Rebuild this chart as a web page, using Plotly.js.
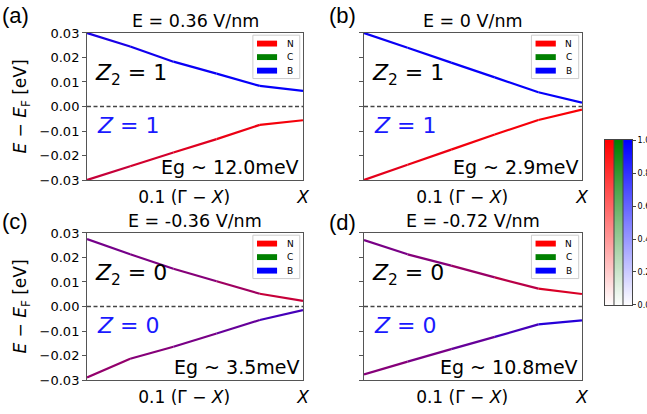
<!DOCTYPE html>
<html><head><meta charset="utf-8">
<script src="https://cdn.plot.ly/plotly-3.0.1.min.js"></script>
<style>html,body{margin:0;padding:0;background:#fff}#chart{width:647px;height:414px}</style>
</head><body><div id="chart"></div>
<script>
// ---- data ----
const kPath = [0, 0.2, 0.4, 0.6, 0.8, 1.0];
const panelLetters = ['(a)', '(b)', '(c)', '(d)'];
const fieldTitles = ['E = 0.36 V/nm', 'E = 0 V/nm', 'E = -0.36 V/nm', 'E = -0.72 V/nm'];
const upperA = [0.0300, 0.0245, 0.0183, 0.0134, 0.0084, 0.0064];
const lowerA = [-0.0300, -0.0244, -0.0188, -0.0133, -0.0075, -0.0056];
const upperB = [0.0300, 0.0240, 0.0179, 0.0119, 0.0058, 0.0016];
const lowerB = [-0.0300, -0.0238, -0.0176, -0.0114, -0.0055, -0.0013];
const upperC = [0.0275, 0.0213, 0.0154, 0.0103, 0.0052, 0.0023];
const lowerC = [-0.0290, -0.0213, -0.0164, -0.0110, -0.0055, -0.0015];
const upperD = [0.0271, 0.0213, 0.0167, 0.0119, 0.0073, 0.0051];
const lowerD = [-0.0277, -0.0225, -0.0174, -0.0124, -0.0073, -0.0057];
// weight of N (red) character along each band; the rest is B (blue)
const upperRedA = [0.12, 0.08, 0.05, 0.03, 0.02, 0.02];
const lowerRedA = [0.75, 0.80, 0.85, 0.90, 0.95, 0.97];
const upperRedB = [0.05, 0.04, 0.03, 0.02, 0.02, 0.02];
const lowerRedB = [0.88, 0.91, 0.94, 0.96, 0.97, 0.98];
const upperRedC = [0.45, 0.47, 0.50, 0.55, 0.70, 0.85];
const lowerRedC = [0.60, 0.55, 0.50, 0.45, 0.35, 0.20];
const upperRedD = [0.45, 0.50, 0.55, 0.65, 0.80, 0.90];
const lowerRedD = [0.55, 0.50, 0.45, 0.35, 0.20, 0.10];
const gapLabels = ['Eg ~ 12.0meV', 'Eg ~ 2.9meV', 'Eg ~ 3.5meV', 'Eg ~ 10.8meV'];
const z2Values = ['1', '1', '0', '0'];
const zValues = ['1', '1', '0', '0'];
const upperSigns = ['−', '−', '+', '+'];
const lowerSigns = ['+', '+', '−', '−'];
const legendNames = ['N', 'C', 'B'];
const legendColors = ['#ff0000', '#008000', '#0000ff'];
const cbLevels = [0, 0.1, 0.2, 0.3, 0.4, 0.5, 0.6, 0.7, 0.8, 0.9, 1.0];
const cbTickVals = [0, 0.2, 0.4, 0.6, 0.8, 1.0];
const cbTickText = ['0.0', '0.2', '0.4', '0.6', '0.8', '1.0'];
const yTickVals = [-0.03, -0.02, -0.01, 0, 0.01, 0.02, 0.03];
const xTickVals = [0.45, 1.0];
const xTickText = ['0.1 (Γ − <i>X</i>)', '<i>X</i>'];
const zeroLevel = 0;

const uppers = [upperA, upperB, upperC, upperD];
const lowers = [lowerA, lowerB, lowerC, lowerD];
const upperReds = [upperRedA, upperRedB, upperRedC, upperRedD];
const lowerReds = [lowerRedA, lowerRedB, lowerRedC, lowerRedD];

// ---- layout geometry ----
const domX = [[0.1345, 0.4683], [0.5626, 0.8995], [0.1345, 0.4683], [0.5626, 0.8995]];
const domY = [[0.5652, 0.9203], [0.5652, 0.9203], [0.0821, 0.4372], [0.0821, 0.4372]];
const letterPos = [[0, 0.963], [0.505, 0.963], [0, 0.464], [0.505, 0.462]];
const FONT = 'DejaVu Sans';
const frameColor = '#555';

function mix(r) {
  const R = Math.round(255 * r), B = Math.round(255 * (1 - r));
  return 'rgb(' + R + ',0,' + B + ')';
}

const traces = [];
const annotations = [];
const shapes = [];
const layout = {
  width: 647, height: 414,
  margin: {l: 0, r: 0, t: 0, b: 0},
  paper_bgcolor: '#fff', plot_bgcolor: '#fff',
  showlegend: false,
  font: {family: FONT, color: '#000'}
};

for (let p = 0; p < 4; p++) {
  const sfx = p === 0 ? '' : String(p + 1);
  const xa = 'x' + sfx, ya = 'y' + sfx;
  [[uppers[p], upperReds[p]], [lowers[p], lowerReds[p]]].forEach(([band, reds]) => {
    for (let i = 0; i < kPath.length - 1; i++) {
      traces.push({
        type: 'scatter', mode: 'lines', xaxis: xa, yaxis: ya,
        x: [kPath[i], kPath[i + 1]], y: [band[i], band[i + 1]],
        line: {color: mix((reds[i] + reds[i + 1]) / 2), width: 2.2},
        hoverinfo: 'skip', showlegend: false
      });
    }
  });
  const left = (p % 2 === 0);
  layout['xaxis' + sfx] = {
    domain: domX[p], anchor: ya, range: [0, 1],
    showgrid: false, zeroline: false,
    showline: true, mirror: true, linecolor: frameColor, linewidth: 1,
    tickvals: xTickVals, ticktext: xTickText,
    ticks: 'outside', ticklen: 2, tickcolor: 'rgba(0,0,0,0)',
    tickfont: {family: FONT, size: 17, color: '#000'}
  };
  const yax = {
    domain: domY[p], anchor: xa, range: [-0.03, 0.03],
    showgrid: false, zeroline: false,
    showline: true, mirror: true, linecolor: frameColor, linewidth: 1,
    tickvals: yTickVals, tickformat: '.2f',
    ticks: 'outside', ticklen: 4, tickcolor: frameColor,
    showticklabels: left,
    tickfont: {family: FONT, size: 13, color: '#000'}
  };
  if (left) {
    yax.title = {text: '<i>E</i> − <i>E</i><sub>F</sub> [eV]', font: {family: FONT, size: 17, color: '#000'}, standoff: 8};
  }
  layout['yaxis' + sfx] = yax;
  // zero (Fermi) line
  shapes.push({type: 'line', xref: xa + ' domain', yref: ya, x0: 0, x1: 1, y0: zeroLevel, y1: zeroLevel,
    line: {color: '#444', width: 1.3, dash: '4px,2.5px'}});
  // title over panel
  annotations.push({xref: xa + ' domain', yref: ya + ' domain', x: 0.5, y: 1.082, xanchor: 'center', yanchor: 'middle',
    text: fieldTitles[p], showarrow: false, font: {family: FONT, size: 17.5, color: '#000'}});
  // panel letter
  annotations.push({xref: 'paper', yref: 'paper', x: letterPos[p][0], y: letterPos[p][1], xanchor: 'left', yanchor: 'middle',
    text: panelLetters[p], showarrow: false, font: {family: 'Liberation Sans', size: 22, color: '#000'}});
  // topological labels
  annotations.push({xref: xa, yref: ya, x: 0.028, y: 0.0132, xanchor: 'left', yanchor: 'middle',
    text: '<i>Z</i><sub>2</sub> = ' + z2Values[p], showarrow: false, font: {family: FONT, size: 22, color: '#000'}});
  annotations.push({xref: xa, yref: ya, x: 0.035, y: -0.0078, xanchor: 'left', yanchor: 'middle',
    text: '<i>Z</i> = ' + zValues[p], showarrow: false, font: {family: FONT, size: 22, color: '#1a1aff'}});
  // gap
  annotations.push({xref: xa, yref: ya, x: 0.99, y: -0.0246, xanchor: 'right', yanchor: 'middle',
    text: gapLabels[p], showarrow: false, font: {family: FONT, size: 19, color: '#000'}});
  // parity signs
  annotations.push({xref: xa, yref: ya, x: 1.045, y: 0.0068, xanchor: 'center', yanchor: 'middle',
    text: '<b>' + upperSigns[p] + '</b>', showarrow: false, font: {family: FONT, size: 21, color: '#e8262a'}});
  annotations.push({xref: xa, yref: ya, x: 1.045, y: -0.0082, xanchor: 'center', yanchor: 'middle',
    text: '<b>' + lowerSigns[p] + '</b>', showarrow: false, font: {family: FONT, size: 21, color: '#e8262a'}});
  // legend box (upper right)
  shapes.push({type: 'rect', xref: xa + ' domain', yref: ya + ' domain', x0: 0.768, x1: 0.985, y0: 0.69, y1: 0.985,
    line: {color: '#cccccc', width: 1}, fillcolor: 'rgba(255,255,255,0.85)', layer: 'above'});
  const rowY = [0.928, 0.836, 0.744];
  legendNames.forEach((nm, j) => {
    shapes.push({type: 'rect', xref: xa + ' domain', yref: ya + ' domain', x0: 0.787, x1: 0.88,
      y0: rowY[j] - 0.02, y1: rowY[j] + 0.02, line: {width: 0}, fillcolor: legendColors[j], layer: 'above'});
    annotations.push({xref: xa + ' domain', yref: ya + ' domain', x: 0.94, y: rowY[j], xanchor: 'center', yanchor: 'middle',
      text: nm, showarrow: false, font: {family: FONT, size: 9, color: '#000'}});
  });
}

// colour bar (three channels)
const cbColors = ['#ff0000', '#008000', '#0000ff'];
cbColors.forEach((c, i) => {
  traces.push({
    type: 'heatmap', xaxis: 'x5', yaxis: 'y5',
    x: [i], y: cbLevels, z: cbLevels.map(v => [v]),
    zmin: 0, zmax: 1, zsmooth: 'best', showscale: false, hoverinfo: 'skip',
    colorscale: [[0, '#ffffff'], [1, c]]
  });
});
layout.xaxis5 = {domain: [0.9351, 0.9768], anchor: 'y5', range: [-0.5, 2.5], showgrid: false, zeroline: false,
  showticklabels: false, ticks: '', showline: true, mirror: true, linecolor: '#444', linewidth: 1};
layout.yaxis5 = {domain: [0.2633, 0.6618], anchor: 'x5', range: [0, 1], side: 'right', showgrid: false, zeroline: false,
  showline: true, mirror: true, linecolor: '#444', linewidth: 1,
  tickvals: cbTickVals, ticktext: cbTickText, ticks: 'outside', ticklen: 3, tickcolor: '#444',
  tickfont: {family: FONT, size: 8, color: '#000'}};
[0.5, 1.5].forEach(v => shapes.push({type: 'line', xref: 'x5', yref: 'y5 domain', x0: v, x1: v, y0: 0, y1: 1,
  line: {color: '#444', width: 1}, layer: 'above'}));

layout.shapes = shapes;
layout.annotations = annotations;
Plotly.newPlot('chart', traces, layout, {staticPlot: true, displayModeBar: false});
</script></body></html>
